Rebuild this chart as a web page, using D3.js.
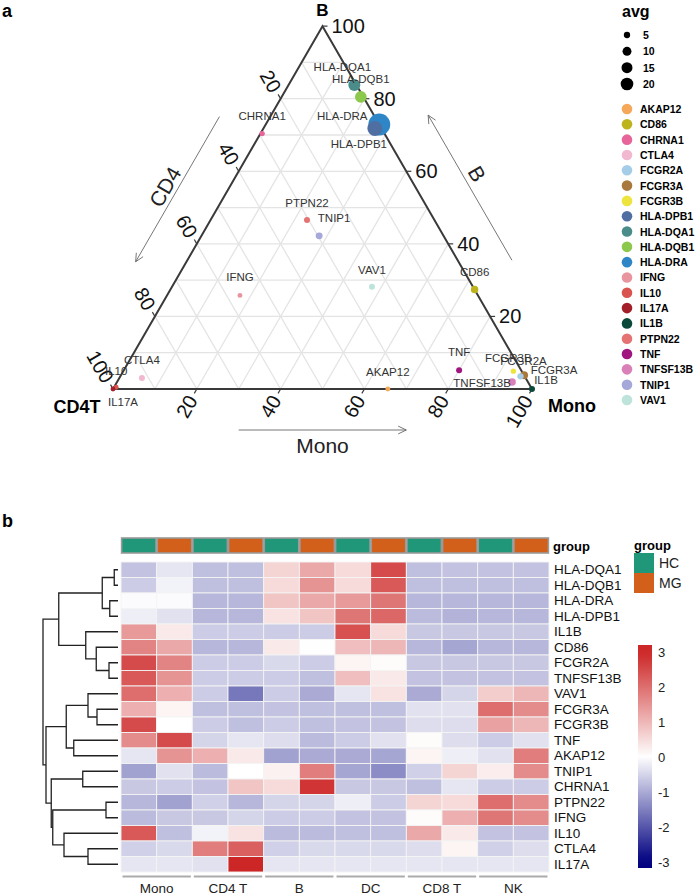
<!DOCTYPE html>
<html><head><meta charset="utf-8">
<script src="https://cdn.jsdelivr.net/npm/d3@7/dist/d3.min.js"></script>
<style>body{margin:0;background:#fff} svg{display:block} text{font-family:"Liberation Sans",Arial,Helvetica,sans-serif}</style>
</head><body><svg id="c" width="697" height="894"></svg>
<script>
// ---------------- DATA: ternary plot ----------------
const genes   = ["AKAP12","CD86","CHRNA1","CTLA4","FCGR2A","FCGR3A","FCGR3B","HLA-DPB1","HLA-DQA1","HLA-DQB1","HLA-DRA","IFNG","IL10","IL17A","IL1B","PTPN22","TNF","TNFSF13B","TNIP1","VAV1"];
const cd4Pct  = [34.4, 0,    29.2, 91.6, 1,    0,    2,    1.6,  0.5,  0.6,  0,    56.8, 99,  100, 0,   30.4, 14.8, 3.8,  29.7, 24.1];
const bPct    = [0,    27.4, 70.4, 3.0,  3.5,  3.8,  4.9,  71.8, 83.8, 80.5, 72.9, 25.8, 0.5, 0,   0,   46.6, 5.2,  1.9,  42.2, 28.2];
const monoPct = [65.6, 72.6, 0.4,  5.4,  95.5, 96.2, 93.1, 26.6, 15.7, 18.9, 27.1, 17.4, 0.5, 0,   100, 23.0, 80,   94.3, 28.1, 47.7];
const avgExpr = [3,    7,    3.5,  4.5,  5,    8,    3.5,  28,   18,   17,   60,   3,    3,   3,   4.5, 4.5,  4.5,  7,    6,    4.5];
const geneColors = ["#F5A85A","#BDB31C","#E8659A","#F2B8CF","#A6CDE8","#A8783C","#EDE53E","#4F6FA3","#4A8C8A","#8CC84B","#2F86C6","#E8959F","#D9534F","#A3202A","#0B4A3A","#E57373","#A0157E","#D980B8","#A5A8D8","#BEE3DA"];
const sizeBreaks = [5, 10, 15, 20];
const ternTicks = [20, 40, 60, 80, 100];
const ternGrid = [10, 20, 30, 40, 50, 60, 70, 80, 90];

// label nudges (layout, px)
const labelNudge = {
  "AKAP12":[0,-17],"CD86":[0,-18],"CHRNA1":[0,-18],"CTLA4":[0,-18],"FCGR2A":[3,-15],
  "FCGR3A":[30,-5],"FCGR3B":[-5,-13],"HLA-DPB1":[-16,16],"HLA-DQA1":[-12,-18],
  "HLA-DQB1":[0,-18],"HLA-DRA":[-37,-8],"IFNG":[0,-18],"IL10":[0,-16],"IL17A":[10,13],
  "IL1B":[14,-9],"PTPN22":[0,-17],"TNF":[0,-18],"TNFSF13B":[-30,1],"TNIP1":[15,-18],"VAV1":[0,-17]
};

// ---------------- DATA: heatmap ----------------
const hmGenes = ["HLA-DQA1","HLA-DQB1","HLA-DRA","HLA-DPB1","IL1B","CD86","FCGR2A","TNFSF13B","VAV1","FCGR3A","FCGR3B","TNF","AKAP12","TNIP1","CHRNA1","PTPN22","IFNG","IL10","CTLA4","IL17A"];
const cellTypes = ["Mono","CD4 T","B","DC","CD8 T","NK"];
const groups = ["HC","MG"];
const groupColors = ["#21977A","#D2601A"];
const hmValues = [
  [-0.7,-0.3,-0.75,-0.75,0.6,1.2,0.5,2.5,-0.75,-0.7,-0.7,-0.7],
  [-0.6,-0.15,-0.75,-0.75,0.5,1.5,0.5,2.3,-0.75,-0.75,-0.75,-0.75],
  [-0.05,-0.05,-0.85,-0.85,0.8,1.2,1.4,1.9,-0.85,-0.85,-0.85,-0.85],
  [-0.2,-0.35,-0.85,-0.85,0.4,0.8,1.9,2.1,-0.8,-0.9,-0.85,-0.85],
  [1.4,0.3,-0.6,-0.6,-0.6,-0.6,2.4,0.5,-0.65,-0.65,-0.65,-0.65],
  [1.7,1.2,-0.85,-0.85,0.3,0.02,0.9,1.0,-0.85,-1.05,-0.85,-0.85],
  [2.5,1.7,-0.6,-0.6,-0.45,-0.6,0.15,0.05,-0.65,-0.65,-0.65,-0.65],
  [2.3,1.5,-0.6,-0.6,-0.6,-0.75,0.9,0.3,-0.7,-0.7,-0.7,-0.7],
  [2.0,1.1,-0.6,-1.6,-0.6,-1.0,-0.3,0.4,-1.0,-0.5,0.7,1.0],
  [1.1,0.15,-0.75,-0.75,-0.7,-0.75,-0.75,-0.75,-0.35,-0.35,2.0,1.6],
  [2.5,0.0,-0.6,-0.75,-0.6,-0.75,-0.7,-0.7,-0.4,-0.4,1.3,1.0],
  [1.6,2.5,-0.5,-0.3,-0.4,-0.8,-0.6,-0.35,0.05,-0.4,-0.6,-0.35],
  [-0.3,1.5,1.1,0.3,-1.1,-1.0,-1.0,-1.05,0.15,-0.2,-0.35,1.8],
  [-1.1,-0.35,-0.8,0.0,0.2,1.8,-1.05,-1.35,-0.55,0.6,0.25,1.6],
  [-0.65,-0.6,-0.7,0.8,0.5,2.8,-0.65,-0.65,-0.75,-0.3,-0.6,-0.6],
  [-0.85,-1.1,-0.55,-0.85,-0.5,-0.5,-0.2,-0.6,0.6,0.5,2.0,1.6],
  [-0.8,-0.65,-0.65,-0.5,-0.6,-0.6,-0.7,-0.7,0.05,1.1,1.9,1.6],
  [2.3,-0.75,-0.15,0.4,-0.8,-0.8,-0.75,-0.75,1.2,0.3,-0.7,-0.7],
  [-0.55,-0.45,1.8,2.2,-0.55,-0.45,-0.45,-0.45,-0.4,0.15,-0.55,-0.4],
  [-0.3,-0.3,-0.35,3.0,-0.3,-0.3,-0.3,-0.3,-0.3,-0.3,-0.3,-0.3]
];
// hclust-style merges: negative = leaf (row index+1), positive = earlier merge (1-based), height
const dendroMerges = [
  [-1,-2,0.5],[-3,-4,1.1],[1,2,2.1],[-7,-8,1.2],[-6,4,2.9],[-5,5,4.3],[3,6,7.9],
  [-10,-11,2.8],[-9,8,4.0],[-12,-13,5.9],[9,10,6.9],[-14,-15,4.7],[-16,-17,1.6],
  [-19,-20,4.0],[-18,14,7.2],[13,15,8.7],[12,16,8.9],[11,17,9.6],[7,18,10.0]
];
const colorTicks = [-3,-2,-1,0,1,2,3];

// ================= DRAW =================
const svg = d3.select("#c");

// panel letters
svg.append("text").attr("x",2).attr("y",17).attr("font-size",18).attr("font-weight","bold").text("a");
svg.append("text").attr("x",2).attr("y",527).attr("font-size",18).attr("font-weight","bold").text("b");

// ---- ternary geometry ----
const triLeft = {x:113, y:389}, side = 419;
const sc = d3.scaleLinear().domain([0,100]).range([0, side]);
const H = Math.sqrt(3)/2;
function tern(c, b, m){ const t=c+b+m; b=b/t*100; m=m/t*100; return [triLeft.x + sc(m) + sc(b)/2, triLeft.y - sc(b)*H]; }
const gTern = svg.append("g");

// grid
const gridSegs = [];
ternGrid.forEach(v=>{
  gridSegs.push([tern(100-v,v,0), tern(0,v,100-v)]);   // B
  gridSegs.push([tern(100-v,0,v), tern(0,100-v,v)]);   // Mono
  gridSegs.push([tern(v,100-v,0), tern(v,0,100-v)]);   // CD4
});
gTern.selectAll("line.grid").data(gridSegs).join("line").attr("class","grid")
  .attr("x1",d=>d[0][0]).attr("y1",d=>d[0][1]).attr("x2",d=>d[1][0]).attr("y2",d=>d[1][1])
  .attr("stroke","#e4e4e4").attr("stroke-width",1.3);

// border
const vT = tern(0,100,0), vL = tern(100,0,0), vR = tern(0,0,100);
gTern.append("path").attr("d",`M${vT}L${vL}L${vR}Z`).attr("fill","none").attr("stroke","#3a3a3a").attr("stroke-width",2);

// ticks + labels
const tickLen = 5, labGap = 9;
const axesDef = [
  {pt:v=>tern(0,v,100-v), dir:[1,0], rot:0, anchor:"start"},           // B (right edge)
  {pt:v=>tern(v,100-v,0), dir:[-0.5,-H], rot:60, anchor:"end"},        // CD4 (left edge)
  {pt:v=>tern(100-v,0,v), dir:[-0.5,H], rot:-60, anchor:"end"}         // Mono (bottom)
];
axesDef.forEach(a=>{
  ternTicks.forEach(v=>{
    const p = a.pt(v);
    gTern.append("line").attr("x1",p[0]).attr("y1",p[1])
      .attr("x2",p[0]+a.dir[0]*tickLen).attr("y2",p[1]+a.dir[1]*tickLen)
      .attr("stroke","#3a3a3a").attr("stroke-width",1.2);
    const lx = p[0]+a.dir[0]*labGap, ly = p[1]+a.dir[1]*labGap;
    gTern.append("text").attr("x",lx).attr("y",ly).attr("font-size",20).attr("fill","#111")
      .attr("text-anchor",a.anchor).attr("dominant-baseline","central")
      .attr("transform",`rotate(${a.rot},${lx},${ly})`).text(v);
  });
});

// vertex labels
gTern.append("text").attr("x",vT[0]).attr("y",16).attr("text-anchor","middle").attr("font-size",17).attr("font-weight","bold").text("B");
gTern.append("text").attr("x",77).attr("y",413).attr("text-anchor","middle").attr("font-size",18).attr("font-weight","bold").text("CD4T");
gTern.append("text").attr("x",572).attr("y",412).attr("text-anchor","middle").attr("font-size",18).attr("font-weight","bold").text("Mono");

// axis arrows
function edgeArrow(p0, p1, t0, t1, normal, off, labT, labOff, rot, txt){
  const P = t=>[p0[0]+(p1[0]-p0[0])*t + normal[0]*off, p0[1]+(p1[1]-p0[1])*t + normal[1]*off];
  const a = P(t0), b = P(t1);
  gTern.append("line").attr("x1",a[0]).attr("y1",a[1]).attr("x2",b[0]).attr("y2",b[1]).attr("stroke","#666").attr("stroke-width",0.9);
  const ang = Math.atan2(b[1]-a[1], b[0]-a[0]), hl = 9, ha = Math.PI/7;
  [ang+Math.PI-ha, ang+Math.PI+ha].forEach(q=>{
    gTern.append("line").attr("x1",b[0]).attr("y1",b[1]).attr("x2",b[0]+Math.cos(q)*hl).attr("y2",b[1]+Math.sin(q)*hl).attr("stroke","#666").attr("stroke-width",0.9);
  });
  const L = [p0[0]+(p1[0]-p0[0])*labT + normal[0]*labOff, p0[1]+(p1[1]-p0[1])*labT + normal[1]*labOff];
  gTern.append("text").attr("x",L[0]).attr("y",L[1]).attr("font-size",21).attr("fill","#222")
    .attr("text-anchor","middle").attr("dominant-baseline","central")
    .attr("transform",`rotate(${rot},${L[0]},${L[1]})`).text(txt);
}
edgeArrow(vT, vL, 0.31, 0.71, [-H,-0.5], 44, 0.52, 56, -60, "CD4");
edgeArrow(vR, vT, 0.29, 0.69, [H,-0.5], 47, 0.51, 60, 60, "B");
edgeArrow(vL, vR, 0.30, 0.70, [0,1], 41, 0.50, 56, 0, "Mono");

// points
const rScale = d3.scaleSqrt().domain([0,60]).range([0, Math.sqrt(120)]);
const color = d3.scaleOrdinal().domain(genes).range(geneColors);
const pts = genes.map((g,i)=>({g, p:tern(cd4Pct[i], bPct[i], monoPct[i]), avg:avgExpr[i]}));
const ptsSorted = pts.slice().sort((a,b)=>b.avg-a.avg);
gTern.selectAll("circle.pt").data(ptsSorted).join("circle").attr("class","pt")
  .attr("cx",d=>d.p[0]).attr("cy",d=>d.p[1]).attr("r",d=>rScale(d.avg)).attr("fill",d=>color(d.g));
gTern.selectAll("text.plab").data(pts).join("text").attr("class","plab")
  .attr("x",d=>d.p[0]+labelNudge[d.g][0]).attr("y",d=>d.p[1]+labelNudge[d.g][1])
  .attr("text-anchor","middle").attr("dominant-baseline","central").attr("font-size",11.5).attr("fill","#333").text(d=>d.g);

// legends (avg + gene)
const gLeg = svg.append("g");
gLeg.append("text").attr("x",622).attr("y",17).attr("font-size",16).attr("font-weight","bold").text("avg");
const sizeY = d3.scalePoint().domain(sizeBreaks).range([35,84]);
sizeBreaks.forEach(v=>{
  gLeg.append("circle").attr("cx",627).attr("cy",sizeY(v)).attr("r",rScale(v)).attr("fill","#000");
  gLeg.append("text").attr("x",643).attr("y",sizeY(v)).attr("dominant-baseline","central").attr("font-size",10.5).attr("font-weight","bold").text(v);
});
const geneY = d3.scalePoint().domain(genes).range([109,400]);
genes.forEach(g=>{
  gLeg.append("circle").attr("cx",627).attr("cy",geneY(g)).attr("r",5.3).attr("fill",color(g));
  gLeg.append("text").attr("x",640).attr("y",geneY(g)).attr("dominant-baseline","central").attr("font-size",10.5).attr("font-weight","bold").text(g);
});

// ---- heatmap ----
const columns = [];
cellTypes.forEach(ct=>groups.forEach(gr=>columns.push({ct, gr, key:ct+"|"+gr})));
const xB = d3.scaleBand().domain(columns.map(c=>c.key)).range([121,549]);
const yB = d3.scaleBand().domain(hmGenes).range([562,872]);
const hmColor = d3.scaleLinear().domain([-3,0,3]).range(["#000080","#ffffff","#CD2626"]).clamp(true);
const gH = svg.append("g");
const cells = [];
hmGenes.forEach((g,i)=>columns.forEach((c,j)=>cells.push({g, c, v:hmValues[i][j]})));
gH.selectAll("rect.cell").data(cells).join("rect").attr("class","cell")
  .attr("x",d=>xB(d.c.key)).attr("y",d=>yB(d.g)).attr("width",xB.bandwidth()).attr("height",yB.bandwidth())
  .attr("fill",d=>hmColor(d.v)).attr("stroke","#f4f4f4").attr("stroke-width",0.9);

// annotation bar
gH.selectAll("rect.ann").data(columns).join("rect").attr("class","ann")
  .attr("x",d=>xB(d.key)+0.6).attr("y",538).attr("width",xB.bandwidth()-1.2).attr("height",15)
  .attr("fill",d=>groupColors[groups.indexOf(d.gr)]).attr("stroke","#9a9a9a").attr("stroke-width",1.6);
gH.append("text").attr("x",553).attr("y",546).attr("dominant-baseline","central").attr("font-size",13).attr("font-weight","bold").text("group");

// row labels
gH.selectAll("text.rlab").data(hmGenes).join("text").attr("class","rlab")
  .attr("x",554).attr("y",d=>yB(d)+yB.bandwidth()/2).attr("dominant-baseline","central")
  .attr("font-size",13.5).attr("fill","#111").text(d=>d);

// column group brackets + labels
cellTypes.forEach(ct=>{
  const x0 = xB(ct+"|HC"), x1 = xB(ct+"|MG")+xB.bandwidth();
  gH.append("line").attr("x1",x0+1.5).attr("x2",x1-1.5).attr("y1",876.5).attr("y2",876.5).attr("stroke","#ababab").attr("stroke-width",2.2);
  gH.append("text").attr("x",(x0+x1)/2).attr("y",888).attr("text-anchor","middle").attr("dominant-baseline","central").attr("font-size",13.5).attr("fill","#222").text(ct);
});

// dendrogram
const dX = d3.scaleLinear().domain([0,10]).range([118,43]);
const nodes = [];
function nodePos(ref){ if(ref<0){ const g=hmGenes[-ref-1]; return {x:dX(0), y:yB(g)+yB.bandwidth()/2}; } return nodes[ref-1]; }
const dPaths = [];
dendroMerges.forEach(([a,b,h])=>{
  const A = nodePos(a), B = nodePos(b), x = dX(h);
  dPaths.push(`M${A.x},${A.y}H${x}V${B.y}H${B.x}`);
  nodes.push({x, y:(A.y+B.y)/2});
});
gH.selectAll("path.dend").data(dPaths).join("path").attr("class","dend").attr("d",d=>d)
  .attr("fill","none").attr("stroke","#222").attr("stroke-width",1.3);

// group legend
gH.append("text").attr("x",634).attr("y",545).attr("dominant-baseline","central").attr("font-size",13).attr("font-weight","bold").text("group");
groups.forEach((g,i)=>{
  gH.append("rect").attr("x",634).attr("y",553+i*20).attr("width",20).attr("height",20).attr("fill",groupColors[i]);
  gH.append("text").attr("x",659).attr("y",563+i*20).attr("dominant-baseline","central").attr("font-size",14).attr("fill","#222").text(g);
});

// color bar
const cbY = d3.scaleLinear().domain([-3,3]).range([862,652]);
const defs = svg.append("defs");
const grad = defs.append("linearGradient").attr("id","cbg").attr("x1",0).attr("y1",1).attr("x2",0).attr("y2",0);
const cbMin = cbY.invert(868), cbMax = cbY.invert(645);
d3.range(0,1.0001,0.05).forEach(t=>{
  grad.append("stop").attr("offset",t).attr("stop-color",hmColor(cbMin+(cbMax-cbMin)*t));
});
gH.append("rect").attr("x",638).attr("y",645).attr("width",14).attr("height",223).attr("fill","url(#cbg)");
gH.selectAll("text.cbt").data(colorTicks).join("text").attr("class","cbt")
  .attr("x",658).attr("y",d=>cbY(d)).attr("dominant-baseline","central").attr("font-size",13).attr("fill","#222").text(d=>d);
</script></body></html>
